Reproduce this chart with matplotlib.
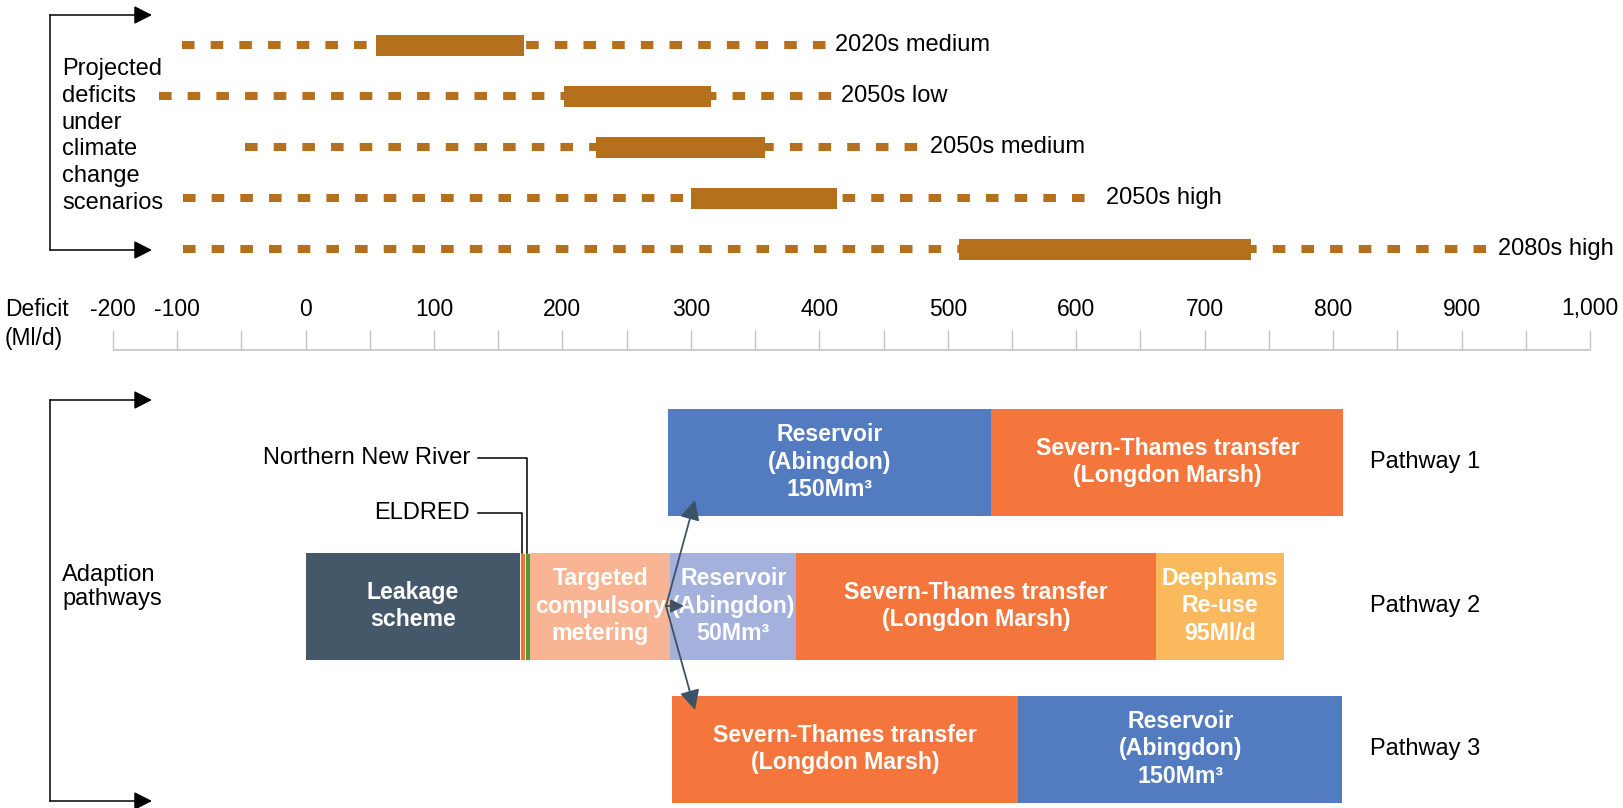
import matplotlib
matplotlib.use('Agg')
import matplotlib.pyplot as plt

plt.rcParams['font.family'] = ['Liberation Sans', 'DejaVu Sans']

# projected deficits under climate change scenarios (Ml/d)
scenarios = ['2020s medium', '2050s low', '2050s medium', '2050s high', '2080s high']
range_low = [-96, -114, -47, -95, -95]
range_high = [405, 410, 479, 616, 921]
core_low = [55, 201, 226, 300, 509]
core_high = [170, 316, 358, 414, 736]

# deficit scale
scale_ticks = list(range(-150, 1001, 50))
label_pos = [-150, -100, 0, 100, 200, 300, 400, 500, 600, 700, 800, 900, 1000]
label_text = ['-200', '-100', '0', '100', '200', '300', '400', '500',
              '600', '700', '800', '900', '1,000']

# adaption pathways: option, start, end (Ml/d)
pathway_names = ['Pathway 1', 'Pathway 2', 'Pathway 3']
p1_options = ['Reservoir\n(Abingdon)\n150Mm³', 'Severn-Thames transfer\n(Longdon Marsh)']
p1_start = [282, 534]
p1_end = [534, 808]
p2_options = ['Leakage\nscheme', 'ELDRED', 'Northern New River',
              'Targeted\ncompulsory\nmetering', 'Reservoir\n(Abingdon)\n50Mm³',
              'Severn-Thames transfer\n(Longdon Marsh)', 'Deephams\nRe-use\n95Ml/d']
p2_start = [0, 167, 170.5, 175, 284, 382, 662]
p2_end = [167, 170.5, 175, 284, 382, 662, 762]
p3_options = ['Severn-Thames transfer\n(Longdon Marsh)', 'Reservoir\n(Abingdon)\n150Mm³']
p3_start = [285, 555]
p3_end = [555, 807]

colors = {
    'Leakage': '#44586a',
    'ELDRED': '#f07436',
    'Northern': '#4e9a3a',
    'Targeted': '#f9b493',
    'Reservoir50': '#a3b1dc',
    'Reservoir150': '#537bbf',
    'Severn-Thames': '#f4763c',
    'Deephams': '#f9b95c',
}
BROWN = '#b5701e'
ARROW = '#3c5266'
GREY = '#c4c4c4'
FS = 17


def option_color(name):
    key = name.split()[0]
    if key == 'Reservoir':
        key = 'Reservoir150' if '150Mm' in name else 'Reservoir50'
    return colors[key]


# layout (pixel rows of the 1624x808 canvas)
W, H = 1624, 808
X0, PX_PER = 305.5, 1.2845      # pixel of 0 Ml/d, pixels per Ml/d
row_y = [45, 96, 147, 198, 249]
path_y = [462, 606, 749]
path_h = 107


def to_px(v):
    return X0 + PX_PER * v


fig = plt.figure(figsize=(W / 100, H / 100), dpi=100)
ax = fig.add_axes([0, 0, 1, 1])
ax.set_xlim(-X0 / PX_PER, (W - X0) / PX_PER)
ax.set_ylim(H, 0)
ax.axis('off')

px = fig.add_axes([0, 0, 1, 1])
px.set_xlim(0, W)
px.set_ylim(H, 0)
px.axis('off')
px.patch.set_alpha(0)

# scenario ranges
for i, name in enumerate(scenarios):
    ax.plot([range_low[i], range_high[i]], [row_y[i], row_y[i]], color=BROWN,
            lw=5.8, linestyle=(0, (1.56, 2.0)), solid_capstyle='butt')
    ax.barh(row_y[i], core_high[i] - core_low[i], left=core_low[i], height=21,
            color=BROWN, linewidth=0)
    ax.annotate(name, xy=(range_high[i], row_y[i]), xytext=(6.5, 0),
                textcoords='offset points', ha='left', va='center', fontsize=FS)

# deficit scale
ax.vlines(scale_ticks, 330, 350, color=GREY, lw=1)
ax.hlines(350, scale_ticks[0], scale_ticks[-1], color=GREY, lw=1.2)
for pos, lab in zip(label_pos, label_text):
    ax.text(pos, 309, lab, ha='center', va='center', fontsize=16.5)
px.text(5, 309, 'Deficit', ha='left', va='center', fontsize=16.5)
px.text(5, 339, '(Ml/d)', ha='left', va='center', fontsize=16.5)

# pathways
pathways = [(p1_options, p1_start, p1_end),
            (p2_options, p2_start, p2_end),
            (p3_options, p3_start, p3_end)]
for (opts, starts, ends), y, pname in zip(pathways, path_y, pathway_names):
    for opt, s, e in zip(opts, starts, ends):
        narrow = e - s < 10
        ax.barh(y, e - s, left=s, height=path_h, color=option_color(opt),
                edgecolor='white' if narrow else 'none', linewidth=0.6 if narrow else 0)
        if not narrow:
            ax.text((s + e) / 2, y, opt, ha='center', va='center', color='white',
                    fontsize=16.7, fontweight='bold', linespacing=1.27)
    px.text(1370, y, pname, ha='left', va='center', fontsize=FS)

# leader lines for the narrow options
bar_top = path_y[1] - path_h / 2
for idx, ty in [(1, 513), (2, 458)]:
    cx = to_px((p2_start[idx] + p2_end[idx]) / 2)
    px.plot([478, cx, cx], [ty, ty, bar_top], color='black', lw=1.1)
    px.text(470, ty, p2_options[idx], ha='right', va='center', fontsize=FS)

# brackets on the left
head = dict(arrowstyle='-|>,head_length=0.55,head_width=0.28', color='black',
            lw=1.1, shrinkA=0, shrinkB=0, mutation_scale=20)
for top, bottom in [(15, 250), (400, 801)]:
    px.plot([50, 50], [top, bottom], color='black', lw=1.1)
    for yy in (top, bottom):
        px.annotate('', xy=(152, yy), xytext=(50, yy), arrowprops=head)
px.text(62, 136, 'Projected\ndeficits\nunder\nclimate\nchange\nscenarios',
        ha='left', va='center', fontsize=FS, linespacing=1.28)
px.text(62, 587, 'Adaption\npathways', ha='left', va='center', fontsize=FS,
        linespacing=1.15)

# branching arrows between pathways
branch = dict(arrowstyle='-|>,head_length=0.6,head_width=0.3', color=ARROW,
              lw=1.3, shrinkA=0, shrinkB=0, mutation_scale=20)
bx, by = 666, path_y[1]
px.annotate('', xy=(695, 500), xytext=(bx, by), arrowprops=branch)
px.annotate('', xy=(695, 710), xytext=(bx, by), arrowprops=branch)
px.annotate('', xy=(684, by), xytext=(bx, by),
            arrowprops=dict(branch, arrowstyle='-|>,head_length=0.4,head_width=0.2'))

fig.savefig('out.png', dpi=100)
